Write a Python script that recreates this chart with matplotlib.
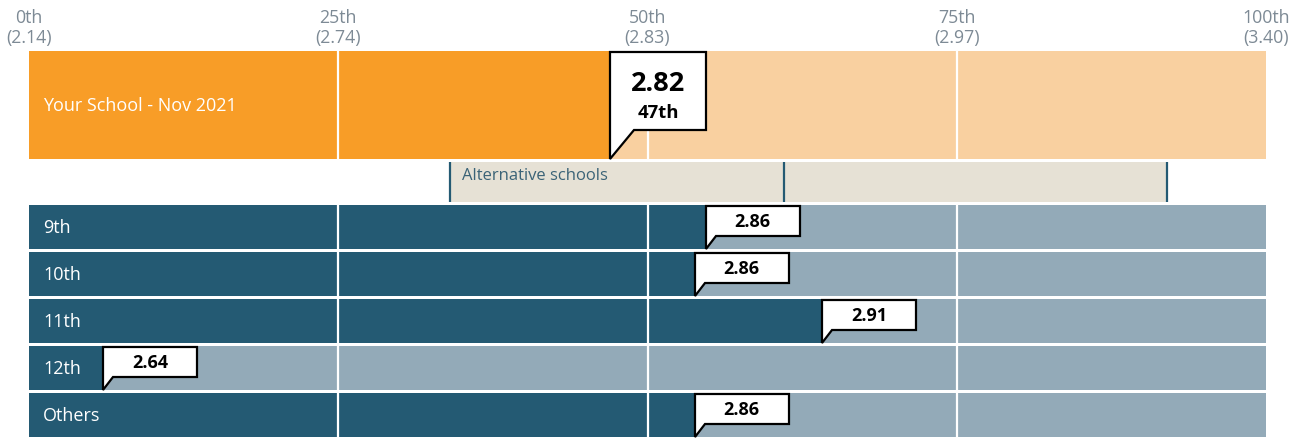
import matplotlib.pyplot as plt
from matplotlib.patches import Polygon

# ---------------------
# DATA
# ---------------------
TICK_PCTS = [0, 25, 50, 75, 100]
TICK_SCORES = ["2.14", "2.74", "2.83", "2.97", "3.40"]

SCHOOL_LABEL = "Your School - Nov 2021"
SCHOOL_PCT = 47
SCHOOL_SCORE = 2.82

ALT_LABEL = "Alternative schools"
ALT_RANGE = [34, 61, 92]  # low, mid, high percentile

GRADES = ["9th", "10th", "11th", "12th", "Others"]
GRADE_PCTS = [54.7, 53.8, 64.1, 6.0, 53.8]
GRADE_SCORES = [2.86, 2.86, 2.91, 2.64, 2.86]

# ---------------------
# STYLE / LAYOUT (pixels)
# ---------------------
ORANGE = "#f89d27"
ORANGE_LIGHT = "#f9d0a0"
TEAL = "#245a73"
TEAL_LIGHT = "#93aab8"
BAND = "#e6e1d5"
TICK_GREY = "#7d8a95"

W, H = 1302, 439
X0, X1 = 29, 1266
PX = (X1 - X0) / 100.0  # pixels per percentile

SCHOOL_TOP, SCHOOL_BOT = 52, 160
BAND_TOP, BAND_BOT = 163, 203
ROW_TOP0, ROW_H, ROW_GAP = 206, 44, 3

plt.rcParams["font.family"] = ["Open Sans", "DejaVu Sans"]


def callout(ax, x, top, box_bot, tip_y, w_px, tail_px):
    pts = [
        (x, tip_y),
        (x, top),
        (x + w_px / PX, top),
        (x + w_px / PX, box_bot),
        (x + tail_px / PX, box_bot),
    ]
    ax.add_patch(Polygon(pts, closed=True, facecolor="white", edgecolor="black",
                         linewidth=1.6, joinstyle="miter", zorder=5))
    return x + w_px / PX / 2


def main():
    fig = plt.figure(figsize=(W / 100, H / 100), dpi=100)
    ax = fig.add_axes([X0 / W, 0, (X1 - X0) / W, 1])
    ax.set_xlim(0, 100)
    ax.set_ylim(H, 0)
    ax.axis("off")

    # percentile header
    for p, s in zip(TICK_PCTS, TICK_SCORES):
        ax.text(p, 28, f"{p}th\n({s})", ha="center", va="center", fontsize=12.8,
                color=TICK_GREY, linespacing=1.15, clip_on=False)

    # your school row
    yc = (SCHOOL_TOP + SCHOOL_BOT) / 2
    h = SCHOOL_BOT - SCHOOL_TOP
    ax.barh(yc, 100, height=h, left=0, color=ORANGE_LIGHT, zorder=1)
    ax.barh(yc, SCHOOL_PCT, height=h, left=0, color=ORANGE, zorder=2)
    ax.vlines([25, 50, 75], SCHOOL_TOP, SCHOOL_BOT, color="white", linewidth=1.6, zorder=3)
    ax.text(14 / PX, yc, SCHOOL_LABEL, ha="left", va="center", fontsize=13,
            color="white", zorder=4)
    cx = callout(ax, SCHOOL_PCT, SCHOOL_TOP + 1, 131, SCHOOL_BOT, 96, 24)
    ax.text(cx, 84, f"{SCHOOL_SCORE:.2f}", ha="center", va="center", fontsize=19.5,
            fontweight="bold", zorder=6)
    ax.text(cx, 113, f"{SCHOOL_PCT}th", ha="center", va="center", fontsize=13.3,
            fontweight="bold", zorder=6)

    # alternative schools band
    lo, mid, hi = ALT_RANGE
    bc = (BAND_TOP + BAND_BOT) / 2
    ax.barh(bc, hi - lo, height=BAND_BOT - BAND_TOP, left=lo, color=BAND, zorder=1)
    ax.vlines([lo, mid, hi], BAND_TOP, BAND_BOT, color=TEAL, linewidth=1.6, zorder=2)
    ax.text(lo + 12 / PX, 176, ALT_LABEL, ha="left", va="center", fontsize=12,
            color="#3b6377", zorder=3)

    # grade rows
    for i, (g, p, s) in enumerate(zip(GRADES, GRADE_PCTS, GRADE_SCORES)):
        top = ROW_TOP0 + i * (ROW_H + ROW_GAP)
        bot = top + ROW_H
        c = (top + bot) / 2
        ax.barh(c, 100, height=ROW_H, left=0, color=TEAL_LIGHT, zorder=1)
        ax.barh(c, p, height=ROW_H, left=0, color=TEAL, zorder=2)
        ax.vlines([25, 50, 75], top, bot, color="white", linewidth=1.6, zorder=3)
        ax.text(14 / PX, c, g, ha="left", va="center", fontsize=13,
                color="white", zorder=4)
        cx = callout(ax, p, top + 1, top + 31, bot, 94, 10)
        ax.text(cx, top + 16, f"{s:.2f}", ha="center", va="center", fontsize=13,
                fontweight="bold", zorder=6)

    fig.savefig("out.png", dpi=100)
    plt.close(fig)


if __name__ == "__main__":
    main()
